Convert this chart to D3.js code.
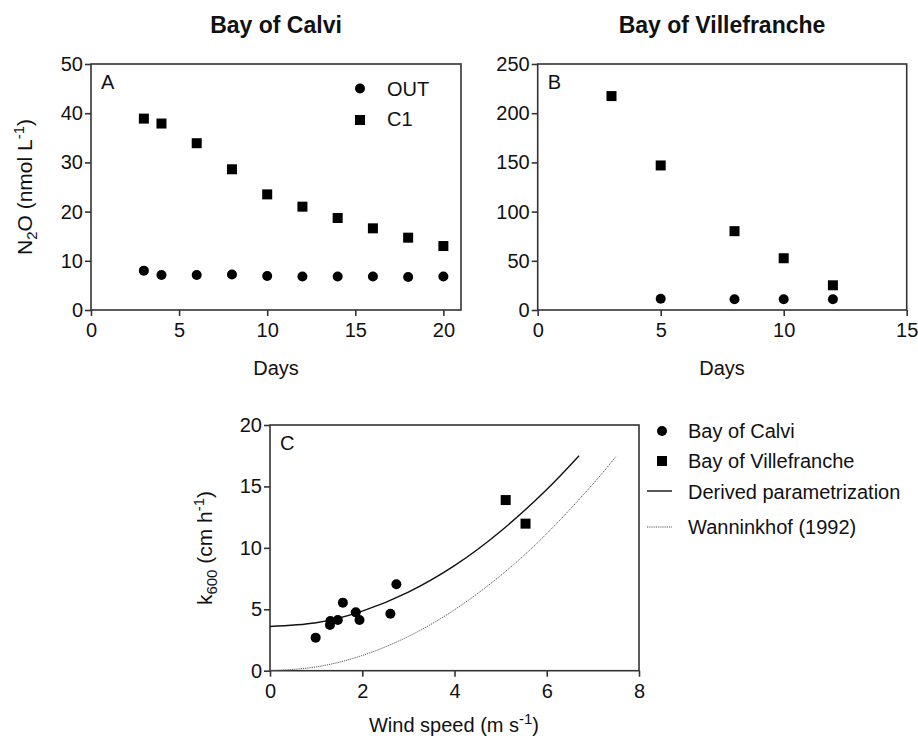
<!DOCTYPE html>
<html>
<head>
<meta charset="utf-8">
<script src="https://cdn.jsdelivr.net/npm/d3@7"></script>
<style>
  body { margin: 0; background: #fff; }
  text { font-family: "Liberation Sans", Arial, sans-serif; fill: #111; }
</style>
</head>
<body>
<div id="chart"></div>
<script>
// panel A - Bay of Calvi
const daysCalvi = [3, 4, 6, 8, 10, 12, 14, 16, 18, 20]
const calviOut = [8.0, 7.1, 7.1, 7.2, 6.9, 6.8, 6.8, 6.8, 6.7, 6.8]
const calviC1 = [38.9, 37.9, 33.9, 28.6, 23.5, 21.0, 18.7, 16.6, 14.7, 13.0]

// panel B - Bay of Villefranche
const daysVilleC1 = [3, 5, 8, 10, 12]
const villeC1 = [217.4, 146.9, 80.1, 52.6, 25.1]
const daysVilleOut = [5, 8, 10, 12]
const villeOut = [11.5, 10.9, 10.9, 10.9]

// panel C - k600 vs wind
const windCalvi = [0.99, 1.30, 1.31, 1.47, 1.58, 1.86, 1.94, 2.61, 2.74]
const kCalvi = [2.69, 3.72, 4.04, 4.12, 5.54, 4.75, 4.12, 4.64, 7.03]
const windVille = [5.11, 5.54]
const kVille = [13.89, 11.97]
const windDerived = [0, 1, 2, 3, 4, 5, 6, 6.7]
const kDerived = [3.6, 3.9, 4.85, 6.4, 8.55, 11.35, 14.75, 17.5]
const windWann = [0, 1, 2, 3, 4, 5, 6, 7, 7.5]
const kWann = [0, 0.31, 1.24, 2.79, 4.96, 7.75, 11.16, 15.19, 17.44]

const ticksA = [0, 5, 10, 15, 20]
const ticksB = [0, 5, 10, 15]
const ticksC = [0, 2, 4, 6, 8]

const width = 918, height = 740
const axisColor = "#333"
const fs = "20px"

const svg = d3.select("#chart")
    .append("svg")
    .attr("width", width)
    .attr("height", height)

const zip = (xs, ys) => xs.map((x, i) => [x, ys[i]])

function panel(opt) {
    const x = d3.scaleLinear().domain(opt.xDomain).range([opt.left, opt.right])
    const y = d3.scaleLinear().domain(opt.yDomain).range([opt.bottom, opt.top])
    const g = svg.append("g")

    // frame
    g.append("rect")
        .attr("x", opt.left).attr("y", opt.top)
        .attr("width", opt.right - opt.left).attr("height", opt.bottom - opt.top)
        .attr("fill", "none").attr("stroke", axisColor).attr("stroke-width", 1.6)

    const xAxis = g.append("g")
        .attr("transform", `translate(0,${opt.bottom})`)
        .call(d3.axisBottom(x).tickValues(opt.xTicks).tickSize(6).tickPadding(7))
    const yAxis = g.append("g")
        .attr("transform", `translate(${opt.left},0)`)
        .call(d3.axisLeft(y).tickValues(opt.yTicks).tickSize(6).tickPadding(2))
    for (const ax of [xAxis, yAxis]) {
        ax.select(".domain").remove()
        ax.selectAll("line").attr("stroke", axisColor).attr("stroke-width", 1.6)
        ax.selectAll("text")
            .style("font-family", "Liberation Sans, Arial, sans-serif")
            .style("font-size", fs).attr("fill", "#111")
    }

    g.append("text")
        .attr("x", opt.left + 10).attr("y", opt.top + 25)
        .style("font-size", "20px")
        .text(opt.label)

    return { g, x, y }
}

function circles(p, pts) {
    p.g.selectAll(null)
        .data(pts)
        .join("circle")
        .attr("cx", d => p.x(d[0]))
        .attr("cy", d => p.y(d[1]))
        .attr("r", 5)
        .attr("fill", "#000")
}

function squares(p, pts) {
    p.g.selectAll(null)
        .data(pts)
        .join("rect")
        .attr("x", d => p.x(d[0]) - 5)
        .attr("y", d => p.y(d[1]) - 5)
        .attr("width", 10)
        .attr("height", 10)
        .attr("fill", "#000")
}

// ---- A ----
const pA = panel({
    left: 91, right: 461, top: 64, bottom: 310,
    xDomain: [0, 21], yDomain: [0, 50],
    xTicks: ticksA, yTicks: d3.range(0, 51, 10), label: "A"
})
circles(pA, zip(daysCalvi, calviOut))
squares(pA, zip(daysCalvi, calviC1))

// ---- B ----
const pB = panel({
    left: 537.7, right: 906.7, top: 64, bottom: 310,
    xDomain: [0, 15], yDomain: [0, 250],
    xTicks: ticksB, yTicks: d3.range(0, 251, 50), label: "B"
})
circles(pB, zip(daysVilleOut, villeOut))
squares(pB, zip(daysVilleC1, villeC1))

// ---- C ----
const pC = panel({
    left: 270, right: 639, top: 425, bottom: 670.7,
    xDomain: [0, 8], yDomain: [0, 20],
    xTicks: ticksC, yTicks: d3.range(0, 21, 5), label: "C"
})
const line = d3.line().x(d => pC.x(d[0])).y(d => pC.y(d[1])).curve(d3.curveNatural)
pC.g.append("path")
    .attr("d", line(zip(windWann, kWann)))
    .attr("fill", "none").attr("stroke", "#555").attr("stroke-width", 1)
    .attr("stroke-dasharray", "1.2,1")
pC.g.append("path")
    .attr("d", line(zip(windDerived, kDerived)))
    .attr("fill", "none").attr("stroke", "#111").attr("stroke-width", 1.4)
circles(pC, zip(windCalvi, kCalvi))
squares(pC, zip(windVille, kVille))

// titles
svg.append("text").attr("x", 276).attr("y", 33).attr("text-anchor", "middle")
    .style("font-size", "23px").style("font-weight", "bold").text("Bay of Calvi")
svg.append("text").attr("x", 722).attr("y", 33).attr("text-anchor", "middle")
    .style("font-size", "23px").style("font-weight", "bold").text("Bay of Villefranche")

// axis titles
svg.append("text").attr("x", 276).attr("y", 375).attr("text-anchor", "middle")
    .style("font-size", fs).text("Days")
svg.append("text").attr("x", 722).attr("y", 375).attr("text-anchor", "middle")
    .style("font-size", fs).text("Days")

const yLabA = svg.append("text")
    .attr("transform", "translate(32,187) rotate(-90)")
    .attr("text-anchor", "middle").style("font-size", "21px")
yLabA.append("tspan").text("N")
yLabA.append("tspan").attr("dy", 5).style("font-size", "15px").text("2")
yLabA.append("tspan").attr("dy", -5).text("O (nmol L")
yLabA.append("tspan").attr("dy", -8).style("font-size", "15px").text("-1")
yLabA.append("tspan").attr("dy", 8).text(")")

const yLabC = svg.append("text")
    .attr("transform", "translate(212,548) rotate(-90)")
    .attr("text-anchor", "middle").style("font-size", "21px")
yLabC.append("tspan").text("k")
yLabC.append("tspan").attr("dy", 5).style("font-size", "15px").text("600")
yLabC.append("tspan").attr("dy", -5).text(" (cm h")
yLabC.append("tspan").attr("dy", -8).style("font-size", "15px").text("-1")
yLabC.append("tspan").attr("dy", 8).text(")")

const xLabC = svg.append("text")
    .attr("x", 454).attr("y", 732).attr("text-anchor", "middle").style("font-size", fs)
xLabC.append("tspan").text("Wind speed (m s")
xLabC.append("tspan").attr("dy", -8).style("font-size", "15px").text("-1")
xLabC.append("tspan").attr("dy", 8).text(")")

// legend A
const legA = svg.append("g")
legA.append("circle").attr("cx", 360).attr("cy", 88.5).attr("r", 5).attr("fill", "#000")
legA.append("text").attr("x", 387).attr("y", 96).style("font-size", fs).text("OUT")
legA.append("rect").attr("x", 355).attr("y", 115).attr("width", 10).attr("height", 10).attr("fill", "#000")
legA.append("text").attr("x", 387).attr("y", 126).style("font-size", fs).text("C1")

// legend C
const legC = svg.append("g")
legC.append("circle").attr("cx", 662).attr("cy", 431).attr("r", 5).attr("fill", "#000")
legC.append("text").attr("x", 688).attr("y", 438).style("font-size", fs).text("Bay of Calvi")
legC.append("rect").attr("x", 657).attr("y", 456).attr("width", 10).attr("height", 10).attr("fill", "#000")
legC.append("text").attr("x", 688).attr("y", 468).style("font-size", fs).text("Bay of Villefranche")
legC.append("line").attr("x1", 647).attr("x2", 672).attr("y1", 491).attr("y2", 491)
    .attr("stroke", "#111").attr("stroke-width", 1.4)
legC.append("text").attr("x", 688).attr("y", 499).style("font-size", fs).text("Derived parametrization")
legC.append("line").attr("x1", 647).attr("x2", 672).attr("y1", 527).attr("y2", 527)
    .attr("stroke", "#555").attr("stroke-width", 1).attr("stroke-dasharray", "1.2,1")
legC.append("text").attr("x", 688).attr("y", 534).style("font-size", fs).text("Wanninkhof (1992)")
</script>
</body>
</html>
